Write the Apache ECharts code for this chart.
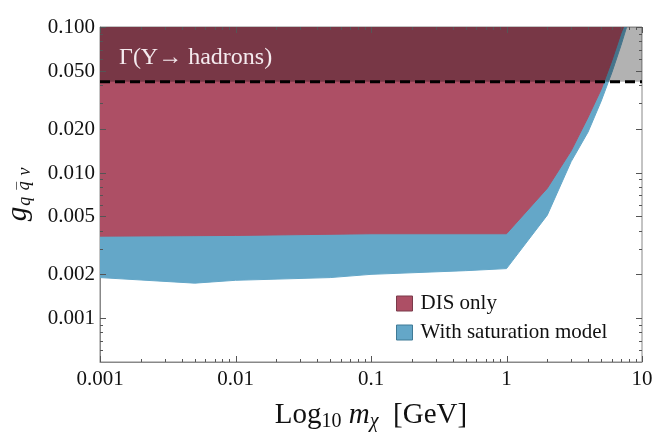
<!DOCTYPE html>
<html>
<head>
<meta charset="utf-8">
<script src="https://cdn.jsdelivr.net/npm/echarts@6/dist/echarts.min.js"></script>
<style>
  html, body { margin: 0; padding: 0; background: #fff; }
  #chart { width: 654px; height: 436px; }
</style>
</head>
<body>
<div id="chart"></div>
<script>
  // lower edges of the excluded regions (m in GeV, coupling)
  var disMass = [0.001, 0.01, 0.1, 1, 2, 3, 4, 5, 6, 7, 7.3];
  var disCoupling = [0.00366, 0.0037, 0.0038, 0.0038, 0.0078, 0.0141, 0.024, 0.0373, 0.0589, 0.0905, 0.1];

  var satMass = [0.001, 0.005, 0.01, 0.05, 0.1, 0.5, 1, 2, 3, 4, 5, 6, 7, 7.7];
  var satCoupling = [0.0019, 0.00174, 0.00182, 0.0019, 0.002, 0.00212, 0.00219, 0.0051, 0.0119, 0.019, 0.031, 0.0488, 0.0748, 0.1];

  // upsilon width bound
  var upsMass = [0.001, 10];
  var upsCoupling = [0.042, 0.042];

  var xMin = 0.001, xMax = 10;
  var yMin = 0.0005, yMax = 0.1;

  var xDecades = [0.001, 0.01, 0.1, 1];
  var minorMantissa = [2, 3, 4, 5, 6, 7, 8, 9];
  var xMajorTicks = [0.001, 0.01, 0.1, 1, 10];
  var yLabelTicks = [0.001, 0.002, 0.005, 0.01, 0.02, 0.05, 0.1];
  var yMinorTicks = [0.0006, 0.0007, 0.0008, 0.0009, 0.003, 0.004, 0.006, 0.007, 0.008, 0.009,
                     0.03, 0.04, 0.06, 0.07, 0.08, 0.09];

  var xMinorTicks = [];
  xDecades.forEach(function (d) {
    minorMantissa.forEach(function (m) { xMinorTicks.push(+(d * m).toPrecision(2)); });
  });

  var FONT = 'Liberation Serif';
  var tickColor = '#555';
  var red = '#ad4f65';
  var blue = '#64a7c8';

  function pairs(xs, ys) {
    return xs.map(function (x, i) { return [x, ys[i]]; });
  }

  function xTicks(len) {
    return function (params, api) {
      var v = api.value(0);
      var b = api.coord([v, yMin]);
      var t = api.coord([v, yMax]);
      var x = Math.round(b[0]) + 0.5;
      return {
        type: 'group',
        children: [
          { type: 'line', shape: { x1: x, y1: b[1], x2: x, y2: b[1] - len }, style: { stroke: tickColor, lineWidth: 1 } },
          { type: 'line', shape: { x1: x, y1: t[1], x2: x, y2: t[1] + len }, style: { stroke: tickColor, lineWidth: 1 } }
        ]
      };
    };
  }

  function yTicks(len, withLabel) {
    return function (params, api) {
      var v = api.value(1);
      var l = api.coord([xMin, v]);
      var r = api.coord([xMax, v]);
      var y = Math.round(l[1]) + 0.5;
      var kids = [
        { type: 'line', shape: { x1: l[0], y1: y, x2: l[0] + len, y2: y }, style: { stroke: tickColor, lineWidth: 1 } },
        { type: 'line', shape: { x1: r[0], y1: y, x2: r[0] - len, y2: y }, style: { stroke: tickColor, lineWidth: 1 } }
      ];
      if (withLabel) {
        kids.push({
          type: 'text',
          style: {
            text: v.toFixed(3), x: l[0] - 5, y: y, align: 'right', verticalAlign: 'middle',
            font: '21px "' + FONT + '"', fill: '#111'
          }
        });
      }
      return { type: 'group', children: kids };
    };
  }

  var chart = echarts.init(document.getElementById('chart'));
  chart.setOption({
    animation: false,
    grid: {
      left: 100, right: 12, top: 27, bottom: 74,
      outerBoundsMode: 'none', containLabel: false,
      show: true, borderColor: '#888', borderWidth: 1, backgroundColor: 'transparent'
    },
    xAxis: {
      type: 'log', logBase: 10, min: xMin, max: xMax,
      axisLine: { show: true, lineStyle: { color: '#888' } },
      axisTick: { show: false },
      splitLine: { show: false },
      axisLabel: {
        fontFamily: FONT, fontSize: 21, color: '#111', margin: 7,
        formatter: function (v) { return String(parseFloat(v.toPrecision(3))); }
      },
      name: '{n|Log}{sub|10}{it| m}{subit|\u03c7}{n|  [GeV]}',
      nameLocation: 'middle', nameGap: 36,
      nameTextStyle: {
        rich: {
          n: { fontFamily: FONT, fontSize: 29, color: '#111' },
          it: { fontFamily: FONT, fontSize: 29, fontStyle: 'italic', color: '#111' },
          sub: { fontFamily: FONT, fontSize: 20, color: '#111', verticalAlign: 'top', padding: [14, 0, 0, 0] },
          subit: { fontFamily: FONT, fontSize: 20, fontStyle: 'italic', color: '#111', verticalAlign: 'top', padding: [14, 0, 0, 0] }
        }
      }
    },
    yAxis: {
      type: 'log', logBase: 10, min: yMin, max: yMax,
      axisLine: { show: true, lineStyle: { color: '#888' } },
      axisTick: { show: false },
      splitLine: { show: false },
      axisLabel: { show: false },
      name: '{g|g}{sub|q }{qb|q\u0305}{sub| v}',
      nameLocation: 'middle', nameGap: 66, nameRotate: 90,
      nameTextStyle: {
        rich: {
          g: { fontFamily: FONT, fontSize: 29, fontStyle: 'italic', color: '#111' },
          sub: { fontFamily: FONT, fontSize: 18, fontStyle: 'italic', color: '#111', verticalAlign: 'top', padding: [14, 0, 0, 1] },
          qb: { fontFamily: 'DejaVu Serif', fontSize: 16, fontStyle: 'italic', color: '#111', verticalAlign: 'top', padding: [15, 0, 0, 1] }
        }
      }
    },
    legend: {
      orient: 'vertical', left: 391, top: 288,
      icon: 'rect', itemWidth: 16, itemHeight: 15, itemGap: 8,
      textStyle: { fontFamily: FONT, fontSize: 21, color: '#111', padding: [0, 0, 0, 3] },
      data: [
        { name: 'DIS only', itemStyle: { color: red, borderColor: '#7a3a4a', borderWidth: 1 } },
        { name: 'With saturation model', itemStyle: { color: blue, borderColor: '#3f7a96', borderWidth: 1 } }
      ]
    },
    graphic: [{
      type: 'text', left: 119, top: 46,
      style: { text: '\u0393(\u03a5\u2192 hadrons)', font: '24px "' + FONT + '"', fill: '#f4eaee' },
      z: 100
    }],
    series: [
      {
        name: 'With saturation model', type: 'line', data: pairs(satMass, satCoupling),
        symbol: 'none', z: 2,
        itemStyle: { color: blue },
        lineStyle: { color: blue, width: 1 },
        areaStyle: { color: blue, opacity: 1, origin: yMax }
      },
      {
        name: 'DIS only', type: 'line', data: pairs(disMass, disCoupling),
        symbol: 'none', z: 3,
        itemStyle: { color: red },
        lineStyle: { color: red, width: 1 },
        areaStyle: { color: red, opacity: 1, origin: yMax }
      },
      {
        name: 'Upsilon', type: 'line', data: pairs(upsMass, upsCoupling),
        symbol: 'none', z: 4,
        lineStyle: { color: '#000', width: 3, type: [10, 5] },
        areaStyle: { color: 'rgba(0,0,0,0.3)', opacity: 1, origin: yMax }
      },
      {
        name: 'xMajor', type: 'custom', z: 10,
        data: xMajorTicks.map(function (v) { return [v, yMin]; }),
        renderItem: xTicks(6)
      },
      {
        name: 'xMinor', type: 'custom', z: 10,
        data: xMinorTicks.map(function (v) { return [v, yMin]; }),
        renderItem: xTicks(3)
      },
      {
        name: 'yMajor', type: 'custom', z: 10,
        data: yLabelTicks.map(function (v) { return [xMin, v]; }),
        renderItem: yTicks(6, true)
      },
      {
        name: 'yMinor', type: 'custom', z: 10,
        data: yMinorTicks.map(function (v) { return [xMin, v]; }),
        renderItem: yTicks(3, false)
      }
    ]
  });
</script>
</body>
</html>
